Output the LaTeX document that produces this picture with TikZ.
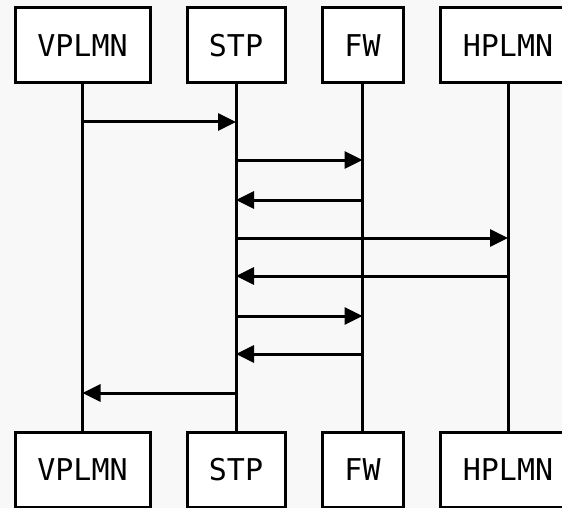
\documentclass[tikz,border=0pt]{standalone}
\usepackage{fontspec}
\setmonofont{DejaVu Sans Mono}
\usetikzlibrary{arrows.meta,positioning,calc}
\definecolor{ink}{HTML}{000000}
\definecolor{paper}{HTML}{F8F8F8}
\tikzset{
  actorbox/.style={
    draw=ink,
    line width=3pt,
    fill=white,
    minimum height=75pt,
    inner sep=0pt,
    font=\ttfamily\fontsize{30}{36}\selectfont
  },
  widebox/.style={actorbox, minimum width=135pt},
  lifeline/.style={draw=ink, line width=3pt},
  msgarrow/.style={-{Triangle[length=18pt,width=17pt]},line width=3pt,draw=ink}
}

\begin{document}
\begin{tikzpicture}[x=1pt,y=-1pt]
  \fill[paper] (0,0) rectangle (562,508);
  \useasboundingbox (0,0) rectangle (562,508);
  % participants, top row
  \node[widebox] (vtop) at (82.5,45.5) {VPLMN};
  \node[actorbox, minimum width=98pt] (stop) at (236,45.5) {STP};
  \node[actorbox, minimum width=81pt] (ftop) at (362.5,45.5) {FW};
  \node[widebox] (htop) at (508,45.5) {HPLMN};
  % participants, bottom row
  \node[widebox] (vbot) at (82.5,469.5) {VPLMN};
  \node[actorbox, minimum width=98pt] (sbot) at (236,469.5) {STP};
  \node[actorbox, minimum width=81pt] (fbot) at (362.5,469.5) {FW};
  \node[widebox] (hbot) at (508,469.5) {HPLMN};
  % lifelines
  \draw[lifeline] (vtop) -- (vbot);
  \draw[lifeline] (stop) -- (sbot);
  \draw[lifeline] (ftop) -- (fbot);
  \draw[lifeline] (htop) -- (hbot);
  % message heights
  \coordinate (m1) at (0,122);
  \coordinate (m2) at (0,160);
  \coordinate (m3) at (0,200);
  \coordinate (m4) at (0,238);
  \coordinate (m5) at (0,276);
  \coordinate (m6) at (0,316);
  \coordinate (m7) at (0,354);
  \coordinate (m8) at (0,393);
  % messages
  \draw[msgarrow] (vtop |- m1) -- (stop |- m1);
  \draw[msgarrow] (stop |- m2) -- (ftop |- m2);
  \draw[msgarrow] (ftop |- m3) -- (stop |- m3);
  \draw[msgarrow] (stop |- m4) -- (htop |- m4);
  \draw[msgarrow] (htop |- m5) -- (stop |- m5);
  \draw[msgarrow] (stop |- m6) -- (ftop |- m6);
  \draw[msgarrow] (ftop |- m7) -- (stop |- m7);
  \draw[msgarrow] (stop |- m8) -- (vtop |- m8);
\end{tikzpicture}
\end{document}
